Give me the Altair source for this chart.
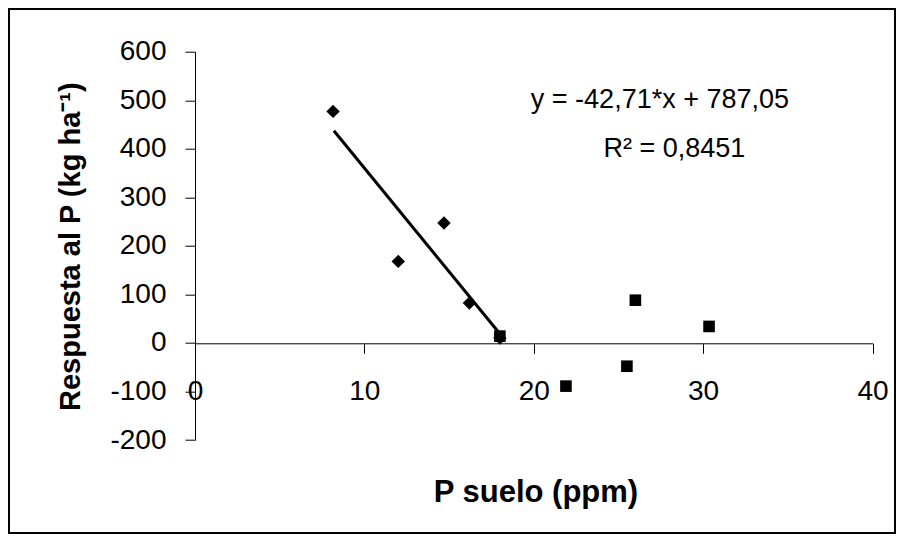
import altair as alt
import pandas as pd

# ---- data ----
diamond_x = [8.15, 12.0, 14.7, 16.2, 18.0]
diamond_y = [477, 168, 247, 82, 10]
square_x = [18.0, 21.9, 25.5, 26.0, 30.35]
square_y = [14, -89, -48, 88, 34]
trend_x = [8.2, 17.95]
trend_y = [437, 21]
x_ticks = [0, 10, 20, 30, 40]
y_ticks = [-200, -100, 0, 100, 200, 300, 400, 500, 600]
eq_text = ["y = -42,71*x + 787,05", "R² = 0,8451"]
eq_x = [27.45, 28.3]
eq_y = [500, 400]
x_title = "P suelo (ppm)"
y_title = "Respuesta al P (kg ha⁻¹)"

W, H = 677.5, 388.3
FONT = "Liberation Sans"

xs = alt.Scale(domain=[0, 40], nice=False, zero=False)
ys = alt.Scale(domain=[-200, 600], nice=False, zero=False)

x_axis = alt.Axis(values=x_ticks, offset=-96.7, tickSize=10, labelPadding=37.7,
                  labelBaseline="middle", labelFontSize=28, labelFont=FONT,
                  labelColor="black", domainColor="black", tickColor="black",
                  domainWidth=1, tickWidth=1, grid=False, labelFlush=False,
                  labelOverlap=False, title=None, labelExpr="'' + datum.value")
y_axis = alt.Axis(values=y_ticks, tickSize=10, labelPadding=19,
                  labelFontSize=28, labelFont=FONT, labelColor="black",
                  domainColor="black", tickColor="black", domainWidth=1,
                  tickWidth=1, grid=False, labelFlush=False,
                  labelOverlap=False, title=None, labelExpr="'' + datum.value")

df_d = pd.DataFrame({"x": diamond_x, "y": diamond_y})
df_s = pd.DataFrame({"x": square_x, "y": square_y})
df_t = pd.DataFrame({"x": trend_x, "y": trend_y})
df_e = pd.DataFrame({"x": eq_x, "y": eq_y, "t": eq_text})
one = pd.DataFrame({"a": [0]})

frame = alt.Chart(one).mark_rect(fillOpacity=0, stroke="black", strokeWidth=2).encode(
    x=alt.value(-186), x2=alt.value(700), y=alt.value(-42.7), y2=alt.value(481.3)
)

diamonds = alt.Chart(df_d).mark_point(shape="diamond", filled=True, size=180,
                                      color="black", opacity=1).encode(
    x=alt.X("x:Q", scale=xs, axis=x_axis),
    y=alt.Y("y:Q", scale=ys, axis=y_axis),
)
squares = alt.Chart(df_s).mark_point(shape="square", filled=True, size=135,
                                     color="black", opacity=1).encode(
    x=alt.X("x:Q", scale=xs, axis=x_axis),
    y=alt.Y("y:Q", scale=ys, axis=y_axis),
)
trend = alt.Chart(df_t).mark_line(color="black", strokeWidth=3).encode(
    x=alt.X("x:Q", scale=xs, axis=x_axis),
    y=alt.Y("y:Q", scale=ys, axis=y_axis),
)
eq = alt.Chart(df_e).mark_text(fontSize=27, font=FONT, color="black",
                               align="center", baseline="middle").encode(
    x=alt.X("x:Q", scale=xs, axis=x_axis),
    y=alt.Y("y:Q", scale=ys, axis=y_axis),
    text="t:N",
)
xt = alt.Chart(one).mark_text(text=x_title, fontSize=31, font=FONT, fontWeight="bold",
                              color="black", align="center", baseline="middle").encode(
    x=alt.value(341), y=alt.value(441.3)
)
yt = alt.Chart(one).mark_text(text=y_title, fontSize=29, font=FONT, fontWeight="bold",
                              color="black", align="center", baseline="middle",
                              angle=270).encode(
    x=alt.value(-124), y=alt.value(195)
)

chart = alt.layer(frame, trend, diamonds, squares, eq, xt, yt).properties(
    width=W, height=H,
    padding={"left": 187, "top": 43.7, "right": 23.5, "bottom": 94},
    autosize=alt.AutoSizeParams(type="none"),
    background="white",
).configure_view(stroke=None)

chart.save("out.html", embed_options={"renderer": "svg", "actions": False})
